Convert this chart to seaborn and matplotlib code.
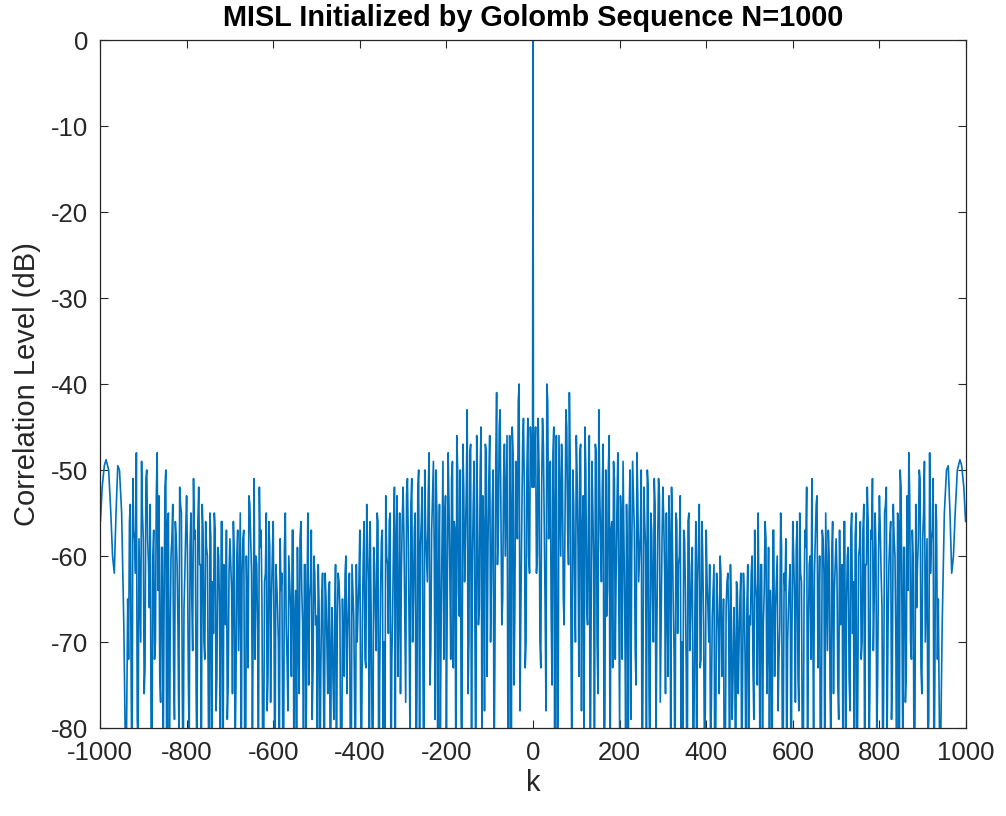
import numpy as np
import pandas as pd
import matplotlib
matplotlib.use("Agg")
import matplotlib.pyplot as plt
import seaborn as sns

# ---- data (right half, k > 0; the correlation magnitude is symmetric in k) ----
k_a = ([1] + list(range(4, 937, 4)) +
       [940, 945, 950, 955, 959, 963, 967, 971, 975, 980, 986, 990, 995, 999])

level_a = [
    -46,
    # k 4..100
    -48, -62, -44, -70, -52, -47, -66, -40, -58, -49, -75, -45, -55, -88, -46, -60, -51, -68, -43, -57, -41, -72, -50, -63, -46,
    # k 104..200
    -59, -48, -78, -53, -45, -66, -55, -90, -49, -61, -47, -70, -43, -58, -52, -84, -50, -64, -46, -57, -73, -51, -62, -48, -80,
    # k 204..300
    -56, -49, -67, -54, -86, -50, -60, -53, -71, -48, -63, -57, -92, -52, -59, -50, -76, -55, -65, -51, -82, -58, -53, -68, -52,
    # k 304..400
    -62, -55, -74, -58, -52, -66, -88, -56, -61, -53, -70, -57, -64, -95, -55, -67, -59, -78, -56, -63, -54, -72, -60, -84, -57,
    # k 404..500
    -66, -61, -77, -64, -90, -62, -69, -60, -74, -65, -86, -63, -68, -61, -79, -66, -93, -64, -70, -62, -75, -65, -88, -61, -67,
    # k 504..600
    -62, -73, -57, -65, -55, -82, -61, -68, -56, -76, -59, -64, -90, -57, -66, -60, -72, -55, -85, -62, -58, -70, -63, -92, -56,
    # k 604..700
    -65, -59, -74, -55, -63, -87, -57, -52, -69, -60, -51, -80, -58, -53, -66, -94, -57, -62, -55, -71, -60, -83, -56, -64, -58,
    # k 704..800
    -75, -57, -62, -89, -56, -66, -59, -78, -55, -63, -58, -92, -60, -56, -70, -54, -61, -52, -84, -57, -51, -65, -59, -74, -53,
    # k 804..900
    -62, -88, -55, -52, -68, -58, -79, -54, -60, -91, -56, -50, -66, -59, -77, -53, -48, -70, -57, -86, -54, -61, -50, -73, -58,
    # k 904..936
    -49, -64, -82, -48, -58, -51, -75, -56, -65,
    # edge k 940..999
    -88, -68, -55, -50, -49.5, -55, -62, -60, -55, -50, -48.8, -49.5, -52, -56,
]

k_b = list(range(2, 935, 4))
level_b = [
    # k 2..98
    -52, -45, -60, -50, -73, -44, -56, -78, -42, -54, -67, -48, -84, -46, -80, -53, -47, -65, -55, -45, -61, -49, -86, -54, -70,
    # k 102..198
    -51, -74, -47, -57, -82, -50, -68, -46, -69, -54, -88, -48, -76, -52, -63, -47, -79, -67, -50, -91, -56, -49, -72, -54, -65,
    # k 202..298
    -53, -72, -58, -81, -62, -55, -79, -49, -57, -75, -53, -60, -50, -74, -56, -85, -52, -87, -57, -70, -54, -69, -51, -77, -58,
    # k 302..398
    -56, -76, -66, -53, -80, -58, -72, -55, -69, -60, -83, -85, -58, -74, -56, -71, -61, -92, -66, -90, -59, -73, -56, -68, -78,
    # k 402..498
    -63, -70, -84, -67, -61, -82, -65, -76, -62, -72, -91, -66, -62, -89, -67, -74, -71, -63, -76, -65, -87, -62, -73, -66, -80,
    # k 502..598
    -68, -60, -79, -63, -75, -66, -61, -86, -64, -58, -70, -83, -67, -57, -74, -63, -78, -68, -59, -81, -64, -88, -66, -61, -69,
    # k 602..698
    -60, -77, -56, -78, -62, -84, -65, -59, -85, -61, -72, -67, -62, -54, -73, -60, -81, -58, -90, -63, -57, -75, -60, -76, -61,
    # k 702..798
    -62, -79, -68, -61, -56, -83, -60, -74, -57, -69, -86, -55, -77, -59, -72, -57, -89, -61, -56, -76, -58, -71, -55, -82, -60,
    # k 802..898
    -57, -66, -75, -54, -80, -61, -56, -73, -58, -70, -55, -87, -52, -84, -59, -74, -64, -53, -72, -60, -81, -66, -58, -51, -76,
    # k 902..934
    -55, -70, -58, -79, -62, -57, -88, -54, -72,
]

title = "MISL Initialized by Golomb Sequence N=1000"
x_label = "k"
y_label = "Correlation Level (dB)"
x_ticks = [-1000, -800, -600, -400, -200, 0, 200, 400, 600, 800, 1000]
y_ticks = [0, -10, -20, -30, -40, -50, -60, -70, -80]

# merge the two readings of the right half, then mirror (zero lag = 0 dB)
half = pd.DataFrame({"k": k_a + k_b, "level": level_a + level_b}).sort_values("k")
k_pos = half["k"].tolist()
lvl_pos = half["level"].tolist()
k_all = [-k for k in reversed(k_pos)] + [0] + k_pos
lvl_all = list(reversed(lvl_pos)) + [0.0] + lvl_pos
df = pd.DataFrame({"k": k_all, "level": lvl_all})

sns.set_theme(style="white")
plt.rcParams["font.family"] = ["Liberation Sans", "DejaVu Sans"]

fig = plt.figure(figsize=(10.06, 8.16), dpi=100)
ax = fig.add_axes([100 / 1006, 1 - 728 / 816, 866 / 1006, 688 / 816])

sns.lineplot(data=df, x="k", y="level", ax=ax, color="#0072BD",
             linewidth=1.2, estimator=None, sort=False)

ax.set_xlim(-1000, 1000)
ax.set_ylim(-80, 0)
ax.set_xticks(x_ticks)
ax.set_yticks(y_ticks)
ax.set_xticklabels([str(v) for v in x_ticks])
ax.set_yticklabels([str(v) for v in y_ticks])

dark = "#262626"
for s in ax.spines.values():
    s.set_visible(True)
    s.set_color(dark)
    s.set_linewidth(0.9)
ax.tick_params(axis="both", direction="in", length=6, width=0.8, colors=dark,
               labelsize=18.5, top=True, right=True, bottom=True, left=True)
ax.tick_params(axis="x", pad=9)
ax.tick_params(axis="y", pad=8.5)
for lab in ax.get_xticklabels() + ax.get_yticklabels():
    lab.set_color(dark)

ax.set_xlabel(x_label, fontsize=21, color=dark, labelpad=3)
ax.set_ylabel(y_label, fontsize=21, color=dark, labelpad=7)
ax.set_title(title, fontsize=20.8, fontweight="bold", color="black", pad=10)

fig.savefig("out.png", dpi=100, facecolor="white")
